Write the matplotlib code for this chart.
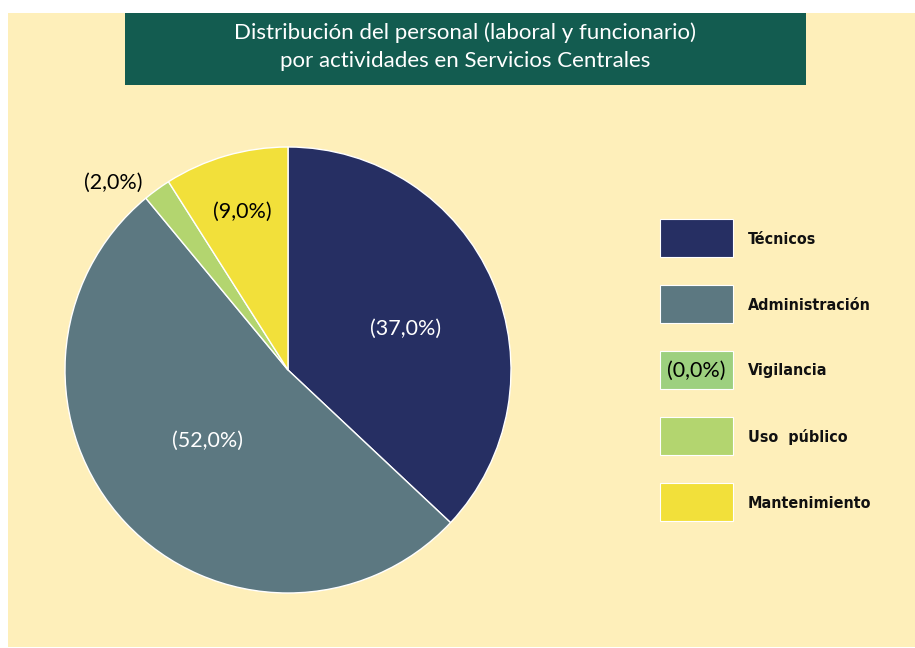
import matplotlib.pyplot as plt
from matplotlib.patches import Rectangle
import numpy as np

# datos
categorias = ['Técnicos', 'Administración', 'Vigilancia', 'Uso  público', 'Mantenimiento']
valores = [37.0, 52.0, 0.0, 2.0, 9.0]
colores = ['#262F63', '#5C7881', '#9DD07F', '#B3D56F', '#F2E03A']
color_texto = ['white', 'white', 'black', 'black', 'black']

titulo = 'Distribución del personal (laboral y funcionario)\npor actividades en Servicios Centrales'
crema = '#FEEFBA'
verde_titulo = '#135C50'


def pct(v):
    return ('(%.1f%%)' % v).replace('.', ',')


W, H = 915, 648
fig = plt.figure(figsize=(W / 100, H / 100), dpi=100)
fig.patch.set_facecolor('white')

# fondo crema y caja del título
fig.patches.append(Rectangle((8 / W, 1 / H), 1 - 8 / W, (647 - 13) / H,
                             transform=fig.transFigure, facecolor=crema, edgecolor='none', zorder=-2))
fig.patches.append(Rectangle((125 / W, 1 - 85 / H), (806 - 125) / W, (85 - 13) / H,
                             transform=fig.transFigure, facecolor=verde_titulo, edgecolor='none', zorder=-1))
fig.text(465 / W, 1 - 47 / H, titulo, ha='center', va='center', color='white',
         fontsize=16, family='Lato', linespacing=1.5)

# tarta
cx, cy, r = 288, 370, 223
ax = fig.add_axes([(cx - r) / W, (H - cy - r) / H, 2 * r / W, 2 * r / H], zorder=2)
idx = [i for i, v in enumerate(valores) if v > 0]
wedges, _ = ax.pie([valores[i] for i in idx], colors=[colores[i] for i in idx],
                   startangle=90, counterclock=False,
                   wedgeprops=dict(edgecolor='white', linewidth=1))
ax.set_xlim(-1, 1)
ax.set_ylim(-1, 1)
ax.set_aspect('equal')
ax.axis('off')

# posición de etiquetas (distancia, desplazamiento angular)
ajustes = {0: (0.56, -4), 1: (0.48, -2), 3: (1.15, 7), 4: (0.74, 0)}
for w, i in zip(wedges, idx):
    ang = np.deg2rad((w.theta1 + w.theta2) / 2 + ajustes[i][1])
    d = ajustes[i][0]
    ax.text(d * np.cos(ang), d * np.sin(ang), pct(valores[i]),
            ha='center', va='center', fontsize=15.5, family='Lato',
            color=color_texto[i], clip_on=False)

# leyenda
for k, (cat, col) in enumerate(zip(categorias, colores)):
    y0 = 219 + 66 * k
    fig.patches.append(Rectangle((660 / W, 1 - (y0 + 38) / H), 73 / W, 38 / H,
                                 transform=fig.transFigure, facecolor=col,
                                 edgecolor='white', linewidth=0.8, zorder=2))
    fig.text(748 / W, 1 - (y0 + 20) / H, cat, ha='left', va='center', fontsize=11.5,
             family='DejaVu Sans', fontweight='bold', stretch='condensed',
             color='#111111')
    if valores[k] == 0:
        fig.text(696.5 / W, 1 - (y0 + 20) / H, pct(valores[k]),
                 ha='center', va='center', fontsize=15.5, family='Lato',
                 color='black', zorder=3)

fig.savefig('out.png', dpi=100, facecolor=fig.get_facecolor())
